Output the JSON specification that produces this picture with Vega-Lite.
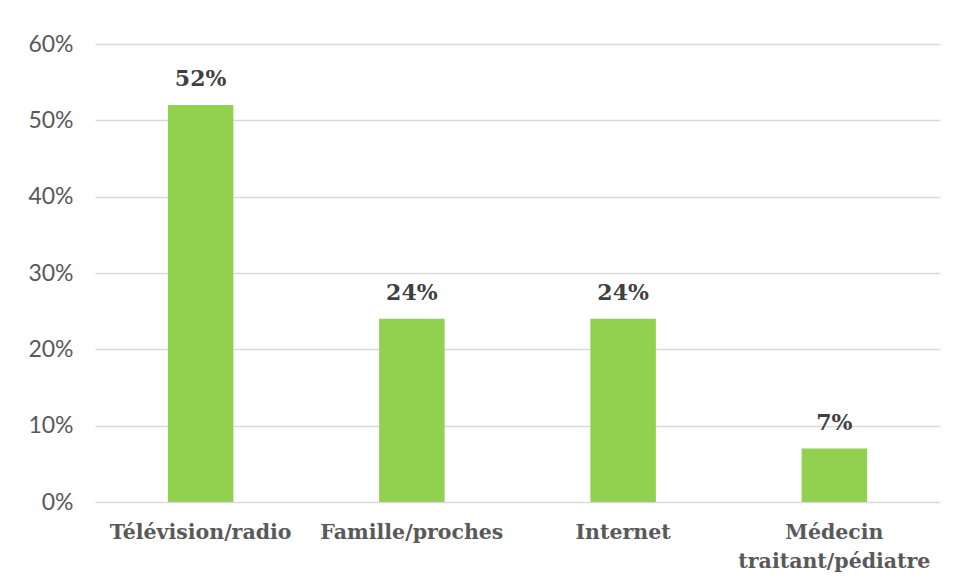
{
  "$schema": "https://vega.github.io/schema/vega-lite/v6.json",
  "width": 845,
  "height": 458,
  "autosize": {"type": "none"},
  "padding": {"left": 95, "top": 44, "right": 15, "bottom": 81},
  "background": "white",
  "config": {"view": {"stroke": null}},
  "data": {
    "values": [
      {"source": "Télévision/radio", "share": 0.52, "label": "52%"},
      {"source": "Famille/proches", "share": 0.24, "label": "24%"},
      {"source": "Internet", "share": 0.24, "label": "24%"},
      {"source": "Médecin traitant/pédiatre", "share": 0.07, "label": "7%"}
    ]
  },
  "encoding": {
    "x": {
      "field": "source",
      "type": "nominal",
      "sort": null,
      "scale": {"paddingInner": 0.69, "paddingOuter": 0.345},
      "axis": {
        "title": null,
        "labelAngle": 0,
        "domain": false,
        "ticks": false,
        "labelPadding": 20,
        "labelLimit": 0,
        "labelFont": "DejaVu Serif",
        "labelFontWeight": "bold",
        "labelFontSize": 20.5,
        "labelColor": "#595959",
        "labelLineHeight": 29,
        "labelBaseline": "top",
        "labelExpr": "datum.label == 'Médecin traitant/pédiatre' ? ['Médecin', 'traitant/pédiatre'] : datum.label"
      }
    },
    "y": {
      "field": "share",
      "type": "quantitative",
      "scale": {"domain": [0, 0.6]},
      "axis": {
        "title": null,
        "format": ".0%",
        "values": [0, 0.1, 0.2, 0.3, 0.4, 0.5, 0.6],
        "domain": false,
        "ticks": false,
        "labelPadding": 22,
        "labelFont": "Lato",
        "labelFontSize": 23,
        "labelColor": "#595959",
        "gridColor": "#d9d9d9",
        "gridWidth": 1.5
      }
    }
  },
  "layer": [
    {"mark": {"type": "bar", "color": "#92D050"}},
    {
      "mark": {
        "type": "text",
        "baseline": "bottom",
        "dy": -14,
        "font": "DejaVu Serif",
        "fontWeight": "bold",
        "fontSize": 22,
        "color": "#404040"
      },
      "encoding": {"text": {"field": "label"}}
    }
  ]
}
